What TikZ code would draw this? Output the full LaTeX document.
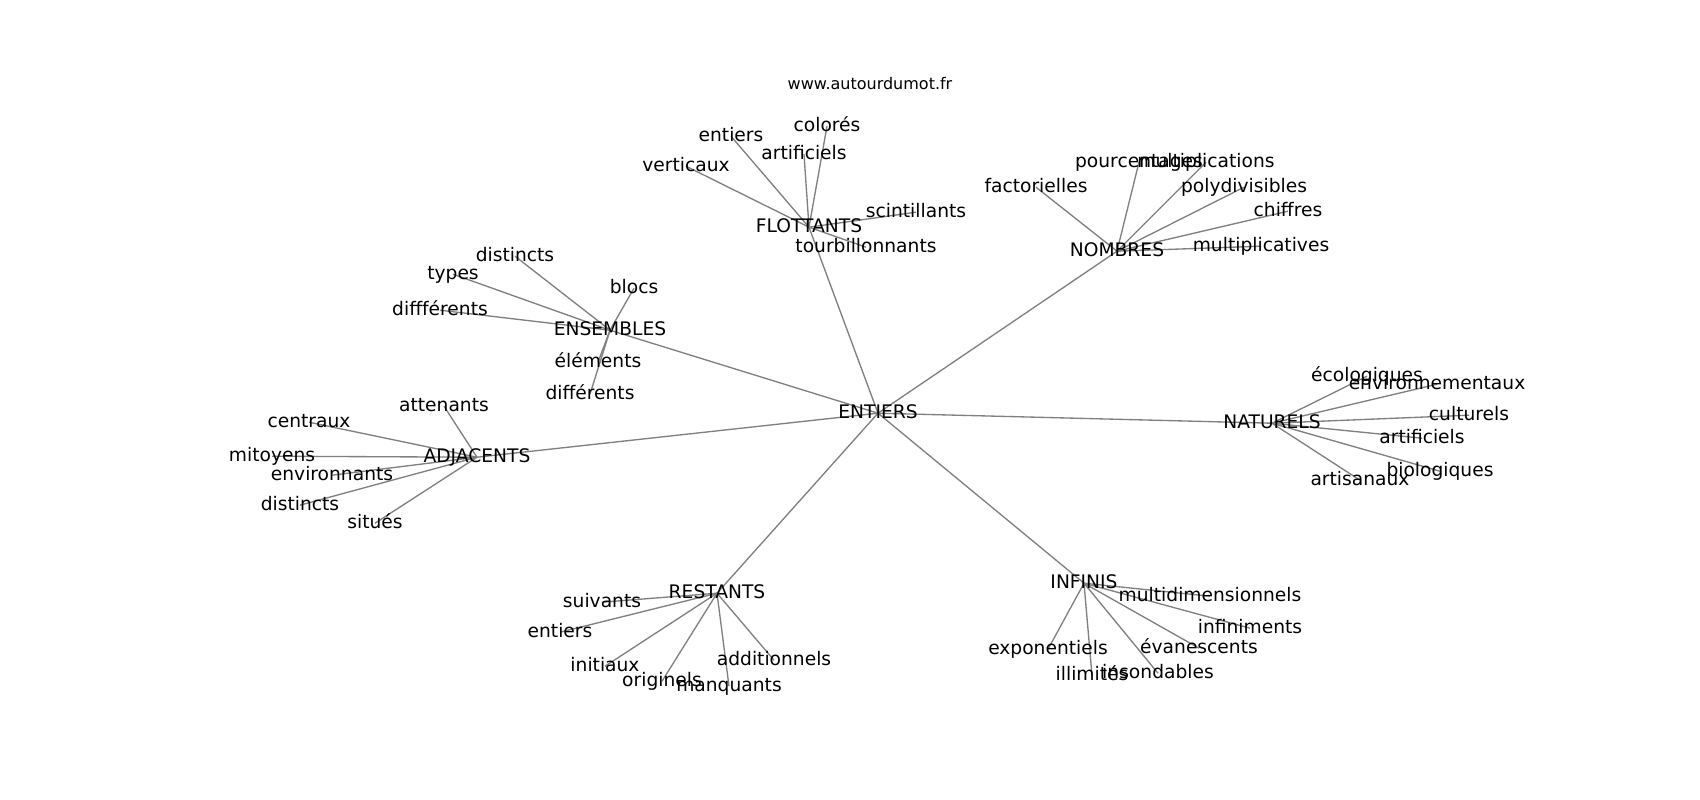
\documentclass[tikz,border=0pt]{standalone}
\usepackage{fontspec}
\setmainfont{DejaVu Sans}
\usetikzlibrary{backgrounds}
\tikzset{
  lbl/.style={inner sep=0pt, outer sep=0pt, anchor=center, text height=0.73em, text depth=0pt, yshift=-2.4pt, font=\fontsize{14pt}{16pt}\selectfont, text=black},
  ttl/.style={inner sep=0pt, anchor=center, text height=0.73em, text depth=0pt, yshift=-0.9pt, font=\fontsize{12pt}{14pt}\selectfont, text=black},
  edge/.style={draw=black!50, line width=1pt}
}
\begin{document}
\begin{tikzpicture}[x=0.75pt, y=-0.75pt]
\useasboundingbox (0,0) rectangle (1700,800);
\node[ttl] (title) at (870,83) {www.autourdumot.fr};
% centre
\node[lbl] (ent) at (878,410) {ENTIERS};
% hubs
\node[lbl] (flo) at (809,224) {FLOTTANTS};
\node[lbl] (nom) at (1117,248) {NOMBRES};
\node[lbl] (ens) at (610,327) {ENSEMBLES};
\node[lbl] (adj) at (477,454) {ADJACENTS};
\node[lbl] (nat) at (1272,420) {NATURELS};
\node[lbl] (res) at (717,590) {RESTANTS};
\node[lbl] (inf) at (1084,580) {INFINIS};
% FLOTTANTS leaves
\node[lbl] (f1) at (827,123) {colorés};
\node[lbl] (f2) at (731,133) {entiers};
\node[lbl] (f3) at (804,151) {artificiels};
\node[lbl] (f4) at (686,163) {verticaux};
\node[lbl] (f5) at (916,209) {scintillants};
\node[lbl] (f6) at (866,244) {tourbillonnants};
% NOMBRES leaves
\node[lbl] (n1) at (1139,159) {pourcentages};
\node[lbl] (n2) at (1206,159) {multiplications};
\node[lbl] (n3) at (1036,184) {factorielles};
\node[lbl] (n4) at (1244,184) {polydivisibles};
\node[lbl] (n5) at (1288,208) {chiffres};
\node[lbl] (n6) at (1261,243) {multiplicatives};
% ENSEMBLES leaves
\node[lbl] (e1) at (515,253) {distincts};
\node[lbl] (e2) at (453,271) {types};
\node[lbl] (e3) at (440,307) {diffférents};
\node[lbl] (e4) at (634,285) {blocs};
\node[lbl] (e5) at (598,359) {éléments};
\node[lbl] (e6) at (590,391) {différents};
% ADJACENTS leaves
\node[lbl] (a1) at (444,403) {attenants};
\node[lbl] (a2) at (309,419) {centraux};
\node[lbl] (a3) at (272,453) {mitoyens};
\node[lbl] (a4) at (332,472) {environnants};
\node[lbl] (a5) at (300,502) {distincts};
\node[lbl] (a6) at (375,520) {situés};
% NATURELS leaves
\node[lbl] (t1) at (1367,373) {écologiques};
\node[lbl] (t2) at (1437,381) {environnementaux};
\node[lbl] (t3) at (1469,412) {culturels};
\node[lbl] (t4) at (1422,435) {artificiels};
\node[lbl] (t5) at (1440,468) {biologiques};
\node[lbl] (t6) at (1360,477) {artisanaux};
% RESTANTS leaves
\node[lbl] (r1) at (602,599) {suivants};
\node[lbl] (r2) at (560,629) {entiers};
\node[lbl] (r3) at (605,663) {initiaux};
\node[lbl] (r4) at (662,678) {originels};
\node[lbl] (r5) at (729,683) {manquants};
\node[lbl] (r6) at (774,657) {additionnels};
% INFINIS leaves
\node[lbl] (i1) at (1210,593) {multidimensionnels};
\node[lbl] (i2) at (1250,625) {infiniments};
\node[lbl] (i3) at (1048,646) {exponentiels};
\node[lbl] (i4) at (1199,645) {évanescents};
\node[lbl] (i5) at (1092,672) {illimités};
\node[lbl] (i6) at (1158,670) {insondables};
\begin{pgfonlayer}{background}
\fill[white] (0,0) rectangle (1700,800);
\foreach \h in {flo,nom,ens,adj,nat,res,inf}
  \draw[edge] (ent.center) -- (\h.center);
\foreach \l in {f1,f2,f3,f4,f5,f6}
  \draw[edge] (flo.center) -- (\l.center);
\foreach \l in {n1,n2,n3,n4,n5,n6}
  \draw[edge] (nom.center) -- (\l.center);
\foreach \l in {e1,e2,e3,e4,e5,e6}
  \draw[edge] (ens.center) -- (\l.center);
\foreach \l in {a1,a2,a3,a4,a5,a6}
  \draw[edge] (adj.center) -- (\l.center);
\foreach \l in {t1,t2,t3,t4,t5,t6}
  \draw[edge] (nat.center) -- (\l.center);
\foreach \l in {r1,r2,r3,r4,r5,r6}
  \draw[edge] (res.center) -- (\l.center);
\foreach \l in {i1,i2,i3,i4,i5,i6}
  \draw[edge] (inf.center) -- (\l.center);
\end{pgfonlayer}
\end{tikzpicture}
\end{document}
